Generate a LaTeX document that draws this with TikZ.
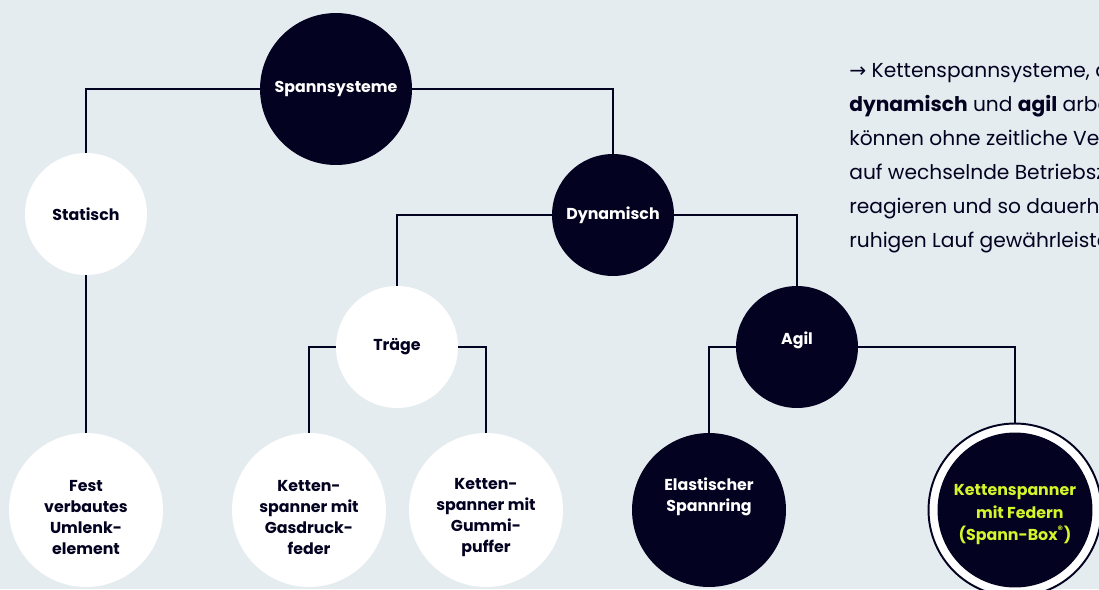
\documentclass[tikz,border=0pt]{standalone}
\usepackage{fontspec}
\setmainfont{Poppins}
\newfontfamily\arrowfont{DejaVu Sans}
\definecolor{navy}{RGB}{3,2,32}
\definecolor{bgcol}{RGB}{229,236,240}
\definecolor{limegreen}{RGB}{212,245,44}

\begin{document}
\begin{tikzpicture}[x=0.02cm,y=-0.02cm,
    conn/.style={draw=navy,line width=0.85pt},
    darknode/.style={circle,fill=navy,text=white,inner sep=0pt,align=center,
        font=\bfseries\fontsize{9}{12}\selectfont},
    lightnode/.style={circle,fill=white,text=navy,inner sep=0pt,align=center,
        font=\bfseries\fontsize{9}{12}\selectfont},
    bodytext/.style={anchor=base west,inner sep=0pt,text=navy,
        font=\fontsize{11.5}{13}\selectfont}]
        % Background
        \clip (0,0) rectangle (1099,589);
        \fill[bgcol] (0,0) rectangle (1099,589);

        % Circles
        \node[darknode, minimum size=3.04cm] (spann) at (336,89) {Spannsysteme};
        \node[lightnode, minimum size=2.44cm] (statisch) at (86,214) {Statisch};
        \node[darknode, minimum size=2.44cm] (dyn) at (613,215) {Dynamisch};
        \node[lightnode, minimum size=2.44cm] (traege) at (397,347) {Träge};
        \node[darknode, minimum size=2.44cm] (agil) at (797,347) {Agil\\[-2.5pt]\mbox{}};
        \node[lightnode, minimum size=3.08cm] (fest) at (86,510)
            {\mbox{}\\[2.5pt]Fest\\verbautes\\Umlenk-\\element};
        \node[lightnode, minimum size=3.08cm] (gas) at (309,510)
            {\mbox{}\\[2.5pt]Ketten-\\spanner mit\\Gasdruck-\\feder};
        \node[lightnode, minimum size=3.08cm] (gummi) at (486,510)
            {\mbox{}\\[2.5pt]Ketten-\\spanner mit\\Gummi-\\puffer};
        \node[darknode, minimum size=3.08cm] (ring) at (709,510)
            {Elastischer\\Spannring\\[5.5pt]\mbox{}};
        \node[circle, draw=navy, line width=1.1pt, fill=white, minimum size=3.46cm] (boxring) at (1015,510) {};
        \node[darknode, text=limegreen, minimum size=3.1cm] (box) at (1015,510)
            {\mbox{}\\[-0.5pt]Kettenspanner\\[0.6pt]\hspace*{0.6em}mit Federn\\[0.6pt](Spann-Box\textsuperscript{®})};

        % Connections
        \draw[conn] (spann) -| (statisch);
        \draw[conn] (statisch) -- (fest);
        \draw[conn] (spann) -| (dyn);
        \draw[conn] (dyn) -| (traege);
        \draw[conn] (dyn) -| (agil);
        \draw[conn] (traege) -| (gas);
        \draw[conn] (traege) -| (gummi);
        \draw[conn] (agil) -| (ring);
        \draw[conn] (agil) -| (boxring);

        % Side text
        \node[bodytext] (txta) at (849,77) {{\arrowfont →} Kettenspannsysteme, die};
        \node[bodytext] (txtb) at (849,111) {\textbf{dynamisch} und \textbf{agil} arbeiten,};
        \node[bodytext] (txtc) at (849,145) {können ohne zeitliche Verzögerung};
        \node[bodytext] (txtd) at (849,179) {auf wechselnde Betriebszustände};
        \node[bodytext] (txte) at (849,213) {reagieren und so dauerhaft einen};
        \node[bodytext] (txtf) at (849,247) {ruhigen Lauf gewährleisten.};
    \end{tikzpicture}
\end{document}
